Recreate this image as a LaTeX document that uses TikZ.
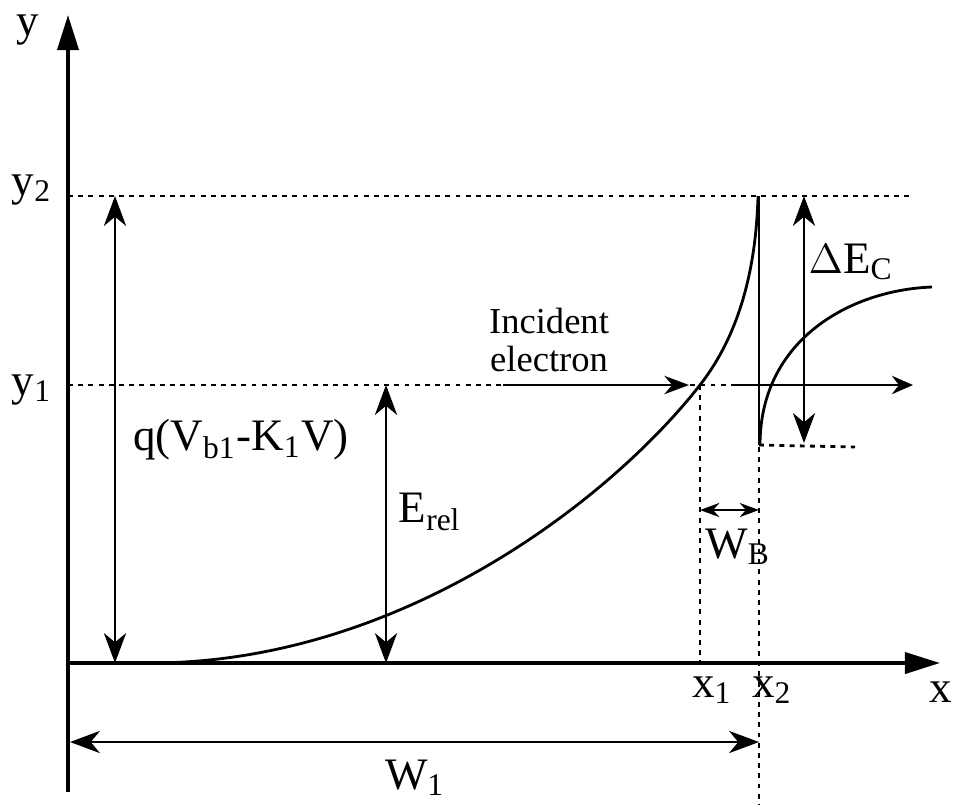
\documentclass[tikz,border=0pt]{standalone}
\usepackage{fontspec}
\setmainfont{Liberation Serif}
\usepackage{tikz}
\usetikzlibrary{arrows.meta,calc}

\tikzset{
  axisline/.style={line width=1.1pt, -{Triangle[length=10pt,width=6pt]}},
  guide/.style={line width=0.8pt, dash pattern=on 1.4pt off 1.5pt},
  dim/.style={line width=0.75pt, {Stealth[length=8.5pt,width=6.3pt,inset=2.6pt]}-{Stealth[length=8.5pt,width=6.3pt,inset=2.6pt]}},
  lbl/.style={font=\fontsize{12.8}{15}\selectfont, inner sep=0pt},
  smalllbl/.style={font=\fontsize{10.4}{10.8}\selectfont, inner sep=0pt, align=center}
}

\begin{document}
\begin{tikzpicture}[x=0.01cm, y=-0.01cm]
  \useasboundingbox (0,0) rectangle (958,808);

  % key points
  \coordinate (O)  at (68,663);
  \coordinate (X1) at (700,663);
  \coordinate (X2) at (759,663);
  \coordinate (P1) at (700,385);
  \coordinate (top) at (759,196);
  \coordinate (bot) at (759,445);

  % Axes
  \draw[line width=0.9pt] (68,792) -- (O);
  \draw[axisline] (O) -- (68,15);
  \draw[axisline] (O) -- (940,663);

  % Level lines
  \draw[guide] (68,196) -- (913,196);
  \draw[guide] (68,385) -- (857,385);
  \draw[guide] (bot) -- (855,447);
  \draw[guide] (P1) -- (X1);
  \draw[guide] (759,447) -- (759,805);

  % Band edges
  \draw[line width=0.8pt] (150,663) .. controls (400,663) and (610,500) .. (P1)
                          .. controls (739,335) and (756,270) .. (758,196);
  \draw[line width=0.8pt] (top) -- (bot);
  \draw[line width=0.8pt] (760,445) .. controls (760,340) and (850,290) .. (932,287);

  % Dimension arrows
  \draw[dim] (115,196) -- (115,663);
  \draw[dim] (386,385) -- (386,663);
  \draw[dim] (804,196) -- (804,443);
  \draw[dim] (70,742) -- (759,742);
  \draw[line width=0.75pt, {Stealth[length=5.5pt,width=4pt,inset=1.8pt]}-{Stealth[length=5.5pt,width=4pt,inset=1.8pt]}] (700,510) -- (759,510);

  % Incident electron
  \draw[line width=0.8pt, -{Stealth[length=7pt,width=5.2pt,inset=2.2pt]}] (503,385) -- (689,385);
  \draw[line width=0.8pt, -{Stealth[length=6pt,width=5.2pt,inset=2pt]}] (732,385) -- (913,385);

  % Labels
  \node[lbl] (ylab)  at (28,30)   {y};
  \node[lbl] (xlab)  at (941,692) {x};
  \node[lbl] (y2lab) at (32,190)  {y\textsubscript{2}};
  \node[lbl] (y1lab) at (32,390)  {y\textsubscript{1}};
  \node[lbl] (qlab)  at (241,440) {q(V\textsubscript{b1}-K\textsubscript{1}V)};
  \node[lbl] (erlab) at (430,512) {E\textsubscript{rel}};
  \node[smalllbl] (inc) at (549,340) {Incident\\electron};
  \node[lbl] (dElab) at (851,262) {$\Delta$E\textsubscript{C}};
  \node[lbl] (wblab) at (738,547) {W\textsubscript{B}};
  \node[lbl] (x1lab) at (712,690) {x\textsubscript{1}};
  \node[lbl] (x2lab) at (772,690) {x\textsubscript{2}};
  \node[lbl] (w1lab) at (415,778) {W\textsubscript{1}};
\end{tikzpicture}
\end{document}
